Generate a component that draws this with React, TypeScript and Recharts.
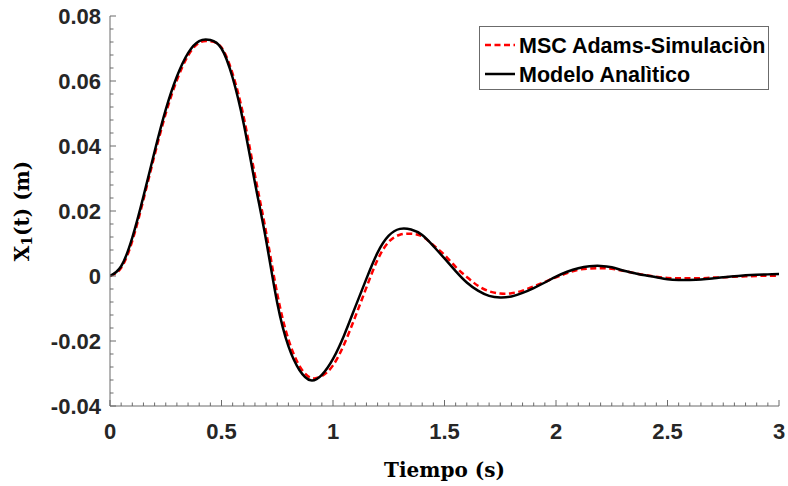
import React from 'react';
import { LineChart, Line, XAxis, YAxis, Legend } from 'recharts';

// tiempo (s)
const tiempo = [
  0, 0.05, 0.1, 0.15, 0.2, 0.25, 0.3, 0.35, 0.4, 0.45,
  0.5, 0.55, 0.6, 0.65, 0.7, 0.75, 0.8, 0.85, 0.9, 0.95,
  1, 1.05, 1.1, 1.15, 1.2, 1.25, 1.3, 1.35, 1.4, 1.45,
  1.5, 1.55, 1.6, 1.65, 1.7, 1.75, 1.8, 1.85, 1.9, 1.95,
  2, 2.05, 2.1, 2.15, 2.2, 2.25, 2.3, 2.35, 2.4, 2.45,
  2.5, 2.55, 2.6, 2.65, 2.7, 2.75, 2.8, 2.85, 2.9, 2.95, 3,
];

// MSC Adams
const adams = [
  0, 0.0025, 0.0108, 0.0235, 0.0372, 0.05, 0.0603, 0.0678, 0.0718, 0.0722,
  0.0703, 0.0622, 0.0488, 0.031, 0.0135, -0.0055, -0.0195, -0.0277, -0.0313, -0.0308,
  -0.0275, -0.021, -0.0125, -0.0035, 0.005, 0.0105, 0.0127, 0.013, 0.0122, 0.0095,
  0.0065, 0.0028, -0.0003, -0.003, -0.0047, -0.0054, -0.0053, -0.0045, -0.0032, -0.0018,
  -0.0004, 0.0009, 0.0019, 0.0023, 0.0024, 0.0022, 0.0016, 0.0009, 0.0003, -0.0002,
  -0.0006, -0.0007, -0.0007, -0.0007, -0.0005, -0.0004, -0.0002, -0.0001, 0, 0.0001, 0.0001,
];

// modelo analitico
const analitico = [
  0, 0.003, 0.0118, 0.0245, 0.0383, 0.0512, 0.0614, 0.0686, 0.0723, 0.0726,
  0.07, 0.061, 0.0467, 0.0287, 0.011, -0.0083, -0.0216, -0.029, -0.0321, -0.0304,
  -0.0255, -0.0182, -0.0095, -0.0008, 0.0072, 0.0124, 0.0145, 0.0143, 0.0126, 0.0092,
  0.0054, 0.0015, -0.002, -0.0045, -0.0061, -0.0066, -0.0063, -0.0052, -0.0037, -0.002,
  -0.0002, 0.0013, 0.0024, 0.003, 0.0031, 0.0027, 0.0017, 0.0009, 0.0002, -0.0004,
  -0.001, -0.0012, -0.0012, -0.0011, -0.0008, -0.0004, -0.0001, 0.0002, 0.0004, 0.0005, 0.0006,
];

const xMajor = [0, 0.5, 1, 1.5, 2, 2.5, 3];
const yMajor = [-0.04, -0.02, 0, 0.02, 0.04, 0.06, 0.08];
const xMinor = Array.from({ length: 61 }, (_, i) => Math.round(i * 5) / 100);
const yMinor = Array.from({ length: 31 }, (_, i) => Math.round(-400 + i * 40) / 10000);

const series = [
  { key: 'adams', name: 'MSC Adams-Simulaciòn', color: '#ff0000', dash: '6 3.5' },
  { key: 'analitico', name: 'Modelo Analìtico', color: '#000000', dash: undefined },
];

const data = tiempo.map((t, i) => ({ t, adams: adams[i], analitico: analitico[i] }));

const AXIS = '#6b6b6b';
const LABEL = '#262626';
const SANS = '"Liberation Sans", Arial, sans-serif';
const SERIF = '"DejaVu Serif", serif';

const isMajor = (v: number, list: number[]) => list.some((m) => Math.abs(m - v) < 1e-6);

const fmtX = (v: number) => String(Math.round(v * 10) / 10);
const fmtY = (v: number) => (Math.abs(v) < 1e-9 ? '0' : v.toFixed(2));

// ticks drawn by hand so they point into the plot
const tickFor = (side: 'bottom' | 'top' | 'left' | 'right') => (props: any) => {
  const { x, y, payload } = props;
  const v = payload.value;
  const major = isMajor(v, side === 'bottom' || side === 'top' ? xMajor : yMajor);
  const len = major ? 6 : 3.5;
  let line;
  if (side === 'bottom') line = <line x1={x} y1={y} x2={x} y2={y - len} stroke={AXIS} />;
  else if (side === 'top') line = <line x1={x} y1={y} x2={x} y2={y + len} stroke={AXIS} />;
  else if (side === 'left') line = <line x1={x} y1={y} x2={x + len} y2={y} stroke={AXIS} />;
  else line = <line x1={x} y1={y} x2={x - len} y2={y} stroke={AXIS} />;
  return (
    <g>
      {line}
      {major && side === 'bottom' && (
        <text x={x} y={y + 33} textAnchor="middle" fontFamily={SANS} fontWeight="bold" fontSize={22} fill={LABEL}>
          {fmtX(v)}
        </text>
      )}
      {major && side === 'left' && (
        <text x={x - 9} y={y + 8} textAnchor="end" fontFamily={SANS} fontWeight="bold" fontSize={22} fill={LABEL}>
          {fmtY(v)}
        </text>
      )}
    </g>
  );
};

const XTitle = (props: any) => {
  const { x, y, width } = props.viewBox;
  return (
    <text x={x + width / 2} y={y + 71} textAnchor="middle" fontFamily={SERIF} fontWeight="bold" fontSize={20} fill="#000">
      Tiempo (s)
    </text>
  );
};

const YTitle = (props: any) => {
  const { y, height } = props.viewBox;
  const cx = 22;
  const cy = y + height / 2;
  return (
    <text
      x={cx}
      y={cy}
      transform={`rotate(-90, ${cx}, ${cy})`}
      textAnchor="middle"
      dominantBaseline="central"
      fontFamily={SERIF}
      fontWeight="bold"
      fontSize={20}
      fill="#000"
    >
      X<tspan dy={5} fontSize={14}>1</tspan>
      <tspan dy={-5}>(t) (m)</tspan>
    </text>
  );
};

const LegendBox = () => (
  <div style={{ width: 290, height: 64, border: `1px solid ${AXIS}`, background: '#fff', boxSizing: 'border-box' }}>
    <svg width={288} height={62}>
      {series.map((s, i) => (
        <g key={s.key}>
          <line x1={5} x2={35} y1={18 + i * 29} y2={18 + i * 29} stroke={s.color} strokeWidth={2.5} strokeDasharray={s.dash} />
          <text x={39} y={18 + i * 29 + 8} fontFamily={SANS} fontWeight="bold" fontSize={21.5} fill="#000">
            {s.name}
          </text>
        </g>
      ))}
    </svg>
  </div>
);

export default function App() {
  return (
    <div style={{ position: 'absolute', left: 0, top: 0, width: 788, height: 486, background: '#fff' }}>
      <LineChart width={788} height={486} data={data} margin={{ top: 16, right: 9, bottom: 0, left: 0 }}>
        <XAxis
          xAxisId="b"
          dataKey="t"
          type="number"
          domain={[0, 3]}
          allowDataOverflow
          ticks={xMinor}
          interval={0}
          height={80}
          tickSize={0}
          tickMargin={0}
          tickLine={false}
          stroke={AXIS}
          tick={tickFor('bottom')}
          label={XTitle}
        />
        <XAxis
          xAxisId="t"
          orientation="top"
          type="number"
          domain={[0, 3]}
          allowDataOverflow
          ticks={xMinor}
          interval={0}
          height={0}
          tickSize={0}
          tickMargin={0}
          tickLine={false}
          stroke={AXIS}
          tick={tickFor('top')}
        />
        <YAxis
          yAxisId="l"
          type="number"
          domain={[-0.04, 0.08]}
          allowDataOverflow
          ticks={yMinor}
          interval={0}
          width={110}
          tickSize={0}
          tickMargin={0}
          tickLine={false}
          stroke={AXIS}
          tick={tickFor('left')}
          label={YTitle}
        />
        <YAxis
          yAxisId="r"
          orientation="right"
          type="number"
          domain={[-0.04, 0.08]}
          allowDataOverflow
          ticks={yMinor}
          interval={0}
          width={0}
          tickSize={0}
          tickMargin={0}
          tickLine={false}
          stroke={AXIS}
          tick={tickFor('right')}
        />
        <Legend
          layout="horizontal"
          verticalAlign="middle"
          align="center"
          content={LegendBox}
          wrapperStyle={{ top: 26, left: 479, width: 290, height: 64 }}
        />
        {series.map((s) => (
          <Line
            key={s.key}
            xAxisId="b"
            yAxisId="l"
            dataKey={s.key}
            name={s.name}
            type="natural"
            stroke={s.color}
            strokeWidth={2.5}
            strokeDasharray={s.dash}
            dot={false}
            activeDot={false}
            isAnimationActive={false}
          />
        ))}
      </LineChart>
    </div>
  );
}
